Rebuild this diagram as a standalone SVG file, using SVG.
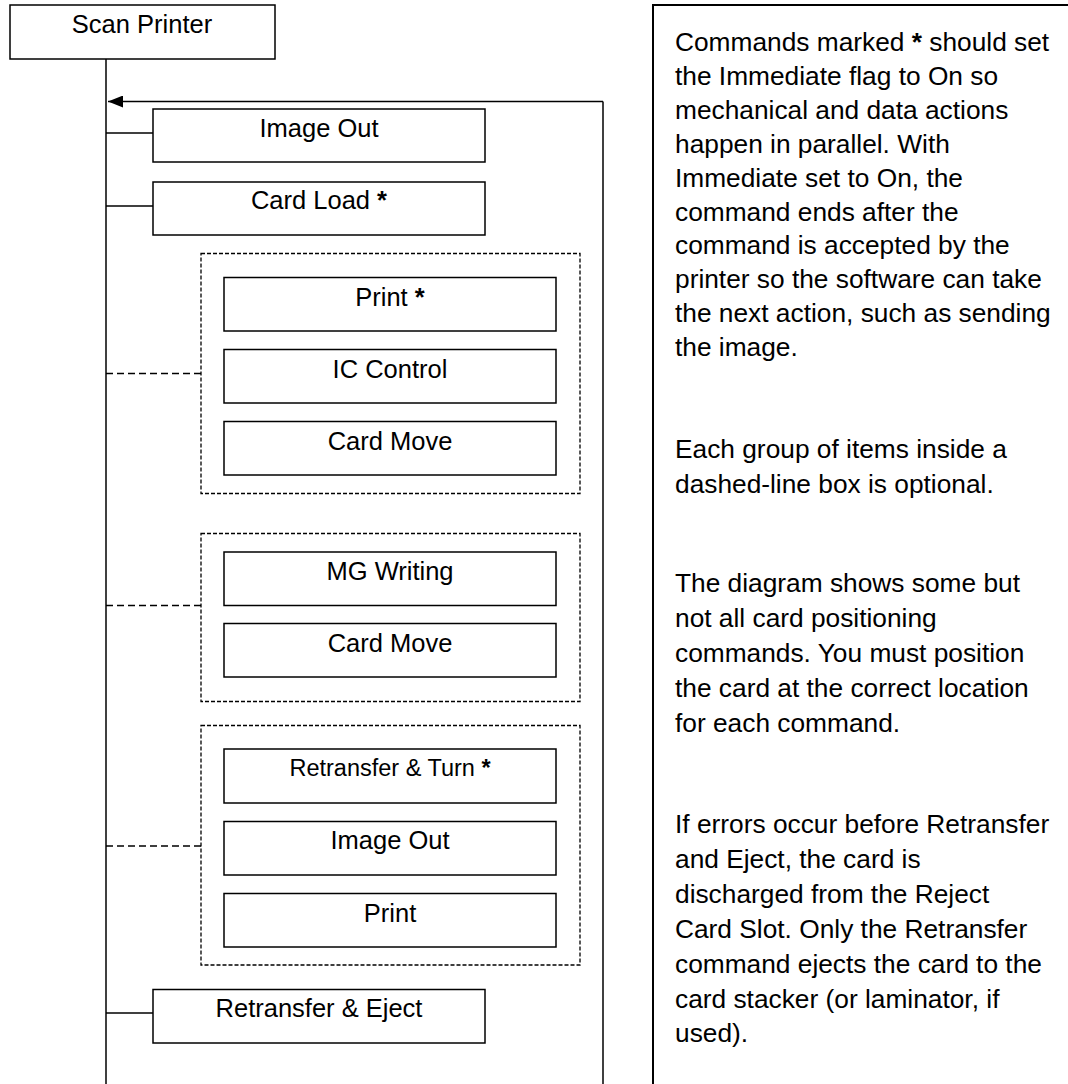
<svg xmlns="http://www.w3.org/2000/svg" width="1068" height="1084" viewBox="0 0 1068 1084">
<style>
.box{fill:#fff;stroke:#000;stroke-width:1.5}
.grp{fill:none;stroke:#000;stroke-width:1.3;stroke-dasharray:4 2}
.ln{fill:none;stroke:#000;stroke-width:1.5}
.dl{fill:none;stroke:#000;stroke-width:1.3;stroke-dasharray:7 4}
.t{font-family:"Liberation Sans",Arial,sans-serif;font-size:25.5px;fill:#000;text-anchor:middle}
.ts{font-size:23.5px}
.n{font-family:"Liberation Sans",Arial,sans-serif;font-size:26.3px;fill:#000}
.b{font-weight:bold}
</style>
<defs>
<marker id="ah" markerWidth="16" markerHeight="12" refX="15" refY="6" orient="auto" markerUnits="userSpaceOnUse">
<path d="M0,0 L15,6 L0,12 Z" fill="#000"/>
</marker>
</defs>
<rect width="1068" height="1084" fill="#fff"/>
<g id="connectors">
<line class="ln" x1="106" y1="59" x2="106" y2="1084"/>
<line class="ln" x1="603" y1="101.5" x2="603" y2="1084"/>
<line class="ln" x1="603" y1="101.5" x2="108" y2="101.5" marker-end="url(#ah)"/>
<line class="ln" x1="106" y1="133" x2="153" y2="133"/>
<line class="ln" x1="106" y1="206" x2="153" y2="206"/>
<line class="ln" x1="106" y1="1013" x2="153" y2="1013"/>
<line class="dl" x1="106" y1="373.5" x2="201" y2="373.5"/>
<line class="dl" x1="106" y1="605.5" x2="201" y2="605.5"/>
<line class="dl" x1="106" y1="846" x2="201" y2="846"/>
</g>
<g id="scan-printer"><rect class="box" x="10" y="5" width="265" height="54"/><text class="t" x="142" y="33">Scan Printer</text></g>
<g id="image-out-1"><rect class="box" x="153" y="109" width="332" height="53"/><text class="t" x="319" y="137">Image Out</text></g>
<g id="card-load"><rect class="box" x="153" y="182" width="332" height="53"/><text class="t" x="319" y="209">Card Load <tspan class="b">*</tspan></text></g>
<g id="group-1">
<rect class="grp" x="201" y="253.5" width="379" height="240"/>
<g id="print-1"><rect class="box" x="224" y="277.5" width="332" height="53.5"/><text class="t" x="390" y="306">Print <tspan class="b">*</tspan></text></g>
<g id="ic-control"><rect class="box" x="224" y="349.5" width="332" height="53.5"/><text class="t" x="390" y="378">IC Control</text></g>
<g id="card-move-1"><rect class="box" x="224" y="421.5" width="332" height="53.5"/><text class="t" x="390" y="450">Card Move</text></g>
</g>
<g id="group-2">
<rect class="grp" x="201" y="533.5" width="379" height="168"/>
<g id="mg-writing"><rect class="box" x="224" y="552" width="332" height="53.5"/><text class="t" x="390" y="580">MG Writing</text></g>
<g id="card-move-2"><rect class="box" x="224" y="623.5" width="332" height="53.5"/><text class="t" x="390" y="652">Card Move</text></g>
</g>
<g id="group-3">
<rect class="grp" x="201" y="725.5" width="379" height="239.5"/>
<g id="retransfer-turn"><rect class="box" x="224" y="749" width="332" height="54"/><text class="t ts" x="390" y="776">Retransfer &amp; Turn <tspan class="b">*</tspan></text></g>
<g id="image-out-2"><rect class="box" x="224" y="821.5" width="332" height="53.5"/><text class="t" x="390" y="849">Image Out</text></g>
<g id="print-2"><rect class="box" x="224" y="893.5" width="332" height="53.5"/><text class="t" x="390" y="922">Print</text></g>
</g>
<g id="retransfer-eject"><rect class="box" x="153" y="989.5" width="332" height="53.5"/><text class="t" x="319" y="1017">Retransfer &amp; Eject</text></g>
<g id="notes">
<rect x="653" y="5" width="440" height="1100" fill="none" stroke="#000" stroke-width="2"/>
<text class="n">
<tspan x="675" y="51">Commands marked <tspan class="b">*</tspan> should set</tspan>
<tspan x="675" y="85">the Immediate flag to On so</tspan>
<tspan x="675" y="119">mechanical and data actions</tspan>
<tspan x="675" y="153">happen in parallel. With</tspan>
<tspan x="675" y="187">Immediate set to On, the</tspan>
<tspan x="675" y="221">command ends after the</tspan>
<tspan x="675" y="254">command is accepted by the</tspan>
<tspan x="675" y="288">printer so the software can take</tspan>
<tspan x="675" y="322">the next action, such as sending</tspan>
<tspan x="675" y="356">the image.</tspan>
<tspan x="675" y="458">Each group of items inside a</tspan>
<tspan x="675" y="493">dashed-line box is optional.</tspan>
<tspan x="675" y="592">The diagram shows some but</tspan>
<tspan x="675" y="627">not all card positioning</tspan>
<tspan x="675" y="662">commands. You must position</tspan>
<tspan x="675" y="697">the card at the correct location</tspan>
<tspan x="675" y="732">for each command.</tspan>
<tspan x="675" y="833">If errors occur before Retransfer</tspan>
<tspan x="675" y="868">and Eject, the card is</tspan>
<tspan x="675" y="903">discharged from the Reject</tspan>
<tspan x="675" y="938">Card Slot. Only the Retransfer</tspan>
<tspan x="675" y="973">command ejects the card to the</tspan>
<tspan x="675" y="1008">card stacker (or laminator, if</tspan>
<tspan x="675" y="1042">used).</tspan>
</text>
</g>
</svg>
